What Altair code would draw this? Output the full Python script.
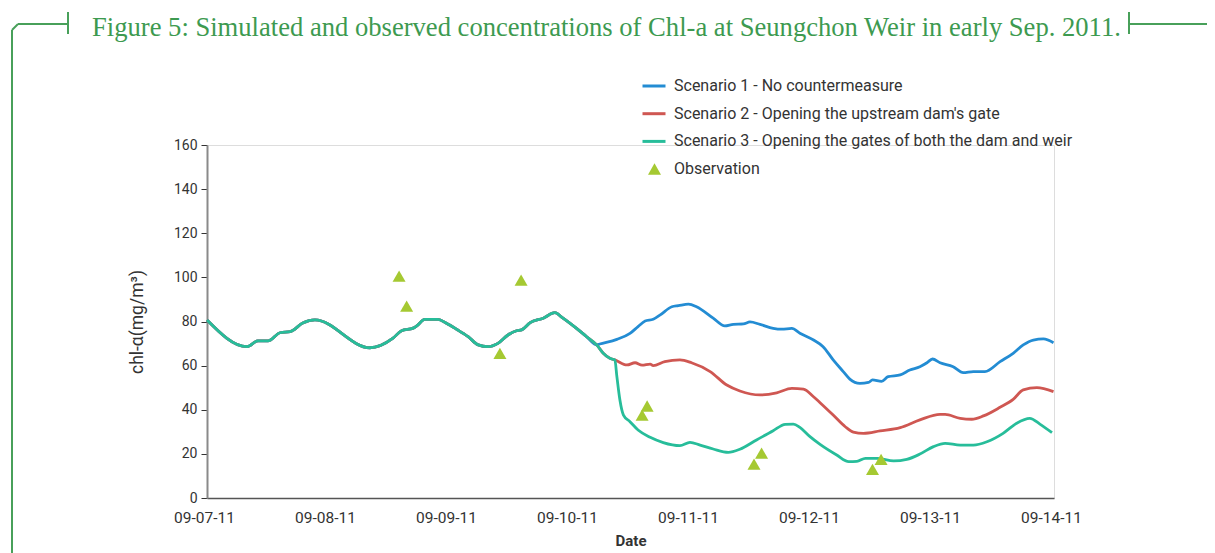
import altair as alt
import pandas as pd

START = pd.Timestamp("2011-09-07 00:00:00")

TITLE = "Figure 5: Simulated and observed concentrations of Chl-a at Seungchon Weir in early Sep. 2011."
SERIES = [
    "Scenario 1 - No countermeasure",
    "Scenario 2 - Opening the upstream dam's gate",
    "Scenario 3 - Opening the gates of both the dam and weir",
]
COLORS = ["#238cd3", "#cf5752", "#27bd9a"]
OBS_COLOR = "#a5c932"
FRAME_GREEN = "#48a05a"
TEXT = "#333333"
FONT = "Roboto"

# shared part of all three scenarios (hours from 09-07-11 00:00, chl-a)
common_h = [0, 7.9, 10.1, 12.1, 14.5, 16.5, 19.0, 21.4, 32.3, 36.9, 38.6, 40.9, 41.6, 43.2,
            45.8, 47.5, 49.5, 51.8, 53.8, 55.7, 57.7, 59.7, 61.4, 62.4, 64.1, 66.7, 69.0,
            70.4, 73.3, 75.3, 77.3]
common_v = [80.7, 68.6, 71.2, 71.2, 74.9, 75.4, 79.3, 80.7, 68.1, 72.5, 75.8, 77.0, 78.0, 81.0,
            81.0, 79.2, 76.5, 73.1, 69.4, 68.6, 70.1, 73.9, 75.8, 76.2, 79.5, 81.5, 84.0,
            81.9, 76.9, 73.1, 69.4]
# part shared by scenarios 2 and 3
tail_h = [78.6, 79.9, 80.9]
tail_v = [65.6, 63.3, 62.6]

s1_h = [77.9, 81.3, 83.9, 85.5, 86.9, 88.5, 89.9, 92.2, 93.5, 95.5, 97.1, 100.4, 102.7, 104.4,
        106.4, 107.7, 109.7, 112.3, 114.0, 116.0, 117.6, 120.3, 122.2, 124.2, 126.2, 127.5,
        129.5, 131.2, 132.0, 133.8, 135.1, 137.5, 139.4, 141.4, 142.8, 143.9, 145.4, 148.0,
        150.0, 152.0, 154.3, 157.3, 159.9, 161.9, 163.9, 165.9, 167.9]
s1_v = [69.8, 71.9, 74.6, 77.7, 80.2, 81.0, 83.0, 86.7, 87.2, 87.9, 86.7, 81.5, 78.0, 78.7,
        78.9, 79.8, 78.7, 76.9, 76.5, 76.9, 74.7, 71.6, 68.6, 62.6, 57.3, 53.9,
        52.0, 52.4, 53.5, 52.9, 55.0, 55.8, 58.0, 59.5, 61.3, 63.0, 61.3, 59.5,
        56.8, 57.3, 57.3, 61.8, 65.6, 69.4, 71.6, 72.1, 70.4]

s2_h = [83.3, 84.9, 86.3, 87.9, 88.5, 90.8, 93.8, 96.1, 99.8, 103.1, 105.7, 109.7, 113.0,
        116.0, 118.3, 120.3, 121.6, 124.2, 126.6, 128.2, 130.2, 133.5, 137.5, 141.4, 145.4,
        146.4, 149.4, 151.7, 154.0, 157.3, 159.9, 161.9, 164.6, 167.9]
s2_v = [60.3, 61.3, 60.2, 60.7, 60.0, 61.8, 62.6, 61.3, 57.3, 51.2, 48.5, 46.7, 47.7,
        49.7, 49.3, 45.9, 43.2, 37.6, 32.3, 29.9, 29.3, 30.4, 31.9, 35.4, 37.9,
        37.9, 36.1, 35.7, 37.2, 41.1, 44.7, 49.0, 50.0, 48.2]

s3_h = [81.3, 81.9, 82.6, 83.9, 85.5, 87.9, 90.5, 93.8, 95.8, 97.8, 100.4, 103.4, 105.7,
        109.0, 112.3, 114.7, 116.3, 117.6, 119.6, 121.6, 124.9, 127.3, 128.9, 130.6, 132.9,
        136.2, 138.8, 141.4, 144.1, 146.4, 149.4, 152.0, 154.7, 157.9, 160.6, 163.2, 165.2,
        167.6]
s3_v = [55.0, 44.4, 37.6, 34.6, 30.8, 27.5, 25.1, 23.7, 25.2, 24.0, 22.2, 20.7, 22.1,
        26.3, 30.5, 33.4, 33.5, 32.0, 27.8, 24.3, 19.5, 16.5, 16.6, 18.0, 18.0,
        16.8, 17.5, 19.9, 23.3, 24.8, 24.0, 24.0, 25.5, 29.3, 33.9, 36.1, 33.5,
        29.6]

obs_h = [38.1, 39.6, 58.1, 62.3, 86.3, 87.3, 108.5, 110.0, 132.0, 133.7]
obs_v = [100.6, 87.0, 65.6, 98.8, 37.6, 41.7, 15.4, 20.3, 13.0, 17.5]

Y_TICKS = list(range(0, 161, 20))
X_DAYS = list(range(7, 15))


def to_time(hours):
    return [(START + pd.to_timedelta(h, unit="h")).strftime("%Y-%m-%dT%H:%M:%S") for h in hours]


series_pts = {
    SERIES[0]: (common_h + s1_h, common_v + s1_v),
    SERIES[1]: (common_h + tail_h + s2_h, common_v + tail_v + s2_v),
    SERIES[2]: (common_h + tail_h + s3_h, common_v + tail_v + s3_v),
}
rows = []
for name, (hs, vs) in series_pts.items():
    for t, v in zip(to_time(hs), vs):
        rows.append({"time": t, "chl": v, "series": name})
lines_df = pd.DataFrame(rows)
obs_df = pd.DataFrame({"time": to_time(obs_h), "chl": obs_v, "kind": "Observation"})

W, H = 847, 353
PAD = {"left": 199, "top": 137, "right": 153, "bottom": 55}

x_enc = alt.X(
    "time:T",
    scale=alt.Scale(domain=[alt.DateTime(year=2011, month=9, date=7),
                            alt.DateTime(year=2011, month=9, date=14)]),
    axis=alt.Axis(
        values=[alt.DateTime(year=2011, month=9, date=d) for d in X_DAYS],
        format="%m-%d-%y", grid=False, ticks=False, tickSize=0,
        labelFlush=False, labelOverlap=False,
        domainColor="#555555", domainWidth=1.5,
        labelFont=FONT, labelFontSize=15.5, labelColor=TEXT, labelPadding=12, labelOffset=-3,
        title="Date", titleFont=FONT, titleFontSize=15, titleFontWeight="bold",
        titleColor=TEXT, titlePadding=8,
    ),
)
y_enc = alt.Y(
    "chl:Q",
    scale=alt.Scale(domain=[0, 160], nice=False),
    axis=alt.Axis(
        values=Y_TICKS, grid=False, domainColor="#8a8a8a", domainWidth=2,
        tickColor=TEXT, tickSize=6, tickWidth=1,
        labelFont=FONT, labelFontSize=14, labelColor=TEXT, labelPadding=4,
        title="chl-α(mg/m³)", titleFont=FONT, titleFontSize=17.5, titleFontWeight="normal",
        titleColor=TEXT, titlePadding=27,
    ),
)
color_enc = alt.Color(
    "series:N",
    scale=alt.Scale(domain=SERIES, range=COLORS),
    legend=alt.Legend(
        title=None, orient="none", legendX=434, legendY=-72, padding=0,
        symbolType="stroke", symbolSize=529, symbolStrokeWidth=3,
        labelFont=FONT, labelFontSize=16, labelColor=TEXT, labelOffset=7,
        rowPadding=6.7, labelLimit=600,
    ),
)

base = alt.Chart(lines_df)
line_layers = [
    base.transform_filter(alt.datum.series == name)
    .mark_line(strokeWidth=2.8, interpolate="monotone")
    .encode(x=x_enc, y=y_enc, color=color_enc)
    for name in SERIES
]

obs_layer = alt.Chart(obs_df).mark_point(filled=True, size=169, opacity=1, color=OBS_COLOR).encode(
    x=x_enc, y=y_enc,
    shape=alt.Shape(
        "kind:N",
        scale=alt.Scale(domain=["Observation"], range=["triangle-up"]),
        legend=alt.Legend(
            title=None, orient="none", legendX=439.5, legendY=16, padding=0,
            symbolSize=169, symbolFillColor=OBS_COLOR, symbolStrokeColor=OBS_COLOR,
            symbolStrokeWidth=0,
            labelFont=FONT, labelFontSize=16, labelColor=TEXT, labelOffset=11.5,
        ),
    ),
)

one = pd.DataFrame({"k": [0]})
title_layer = alt.Chart(one).mark_text(
    text=TITLE, align="left", baseline="alphabetic", font="Liberation Serif",
    fontSize=26.6, color="#3d9a50",
).encode(x=alt.value(-115), y=alt.value(-109))


def frame_rule(x1, x2, y1, y2):
    return alt.Chart(one).mark_rule(color=FRAME_GREEN, strokeWidth=2).encode(
        x=alt.value(x1), x2=alt.value(x2), y=alt.value(y1), y2=alt.value(y2))


frame = [
    frame_rule(-189, -139, -121, -121),
    frame_rule(-139, -139, -133, -111),
    frame_rule(-195, -189, -115, -121),
    frame_rule(-195, -195, -115, 408),
    frame_rule(922, 922, -133, -111),
    frame_rule(922, 1010, -121, -121),
]

chart = alt.layer(*frame, title_layer, *line_layers, obs_layer).properties(
    width=W, height=H,
    autosize=alt.AutoSizeParams(type="none"),
    padding=PAD,
).configure_view(stroke=None).configure(background="white")

chart.save("out.html", embed_options={"renderer": "svg", "actions": False})
